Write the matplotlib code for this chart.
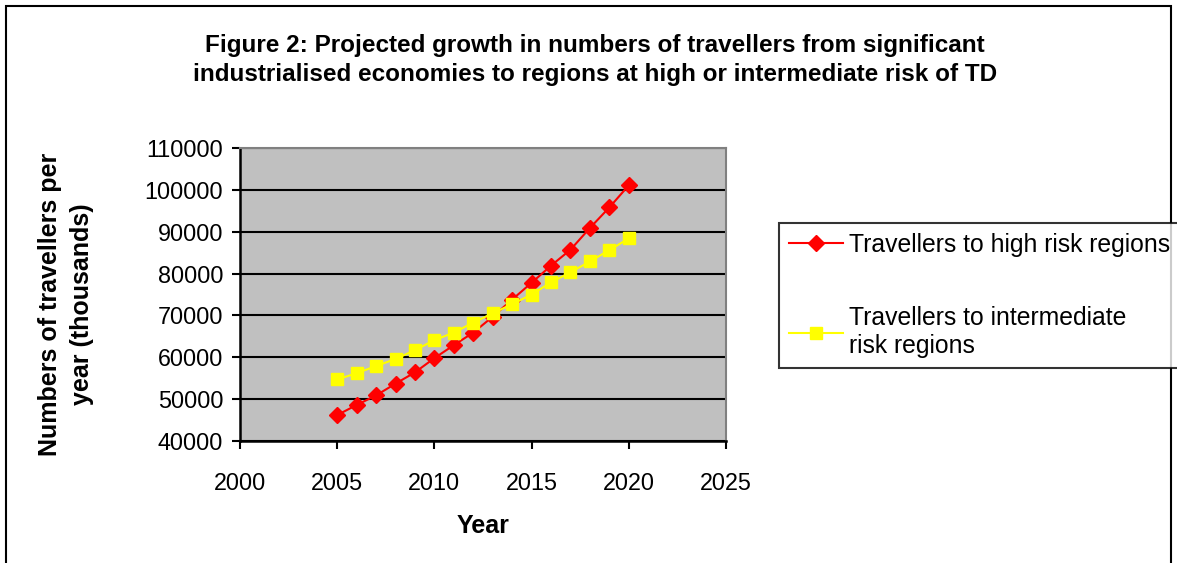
import matplotlib
matplotlib.use("Agg")
from matplotlib import pyplot as plt
from matplotlib.patches import Rectangle

years = list(range(2005, 2021))
high_risk = [46200, 48600, 50900, 53700, 56400, 59800, 62900, 65900,
             69700, 73800, 77800, 81900, 85700, 90900, 95800, 101100]
intermediate_risk = [54700, 56200, 57900, 59600, 61700, 64100, 65900, 68300,
                     70500, 72700, 75000, 77900, 80300, 82900, 85600, 88400]
x_ticks = [2000, 2005, 2010, 2015, 2020, 2025]
y_ticks = list(range(40000, 110001, 10000))

plt.rcParams['font.family'] = ['Liberation Sans', 'DejaVu Sans']

W, H = 1177, 563
fig = plt.figure(figsize=(W / 100, H / 100), dpi=100)

# outer chart border
fig.patches.append(Rectangle((6 / W, -0.05), 1165 / W, 1 - 6 / H + 0.05,
                             transform=fig.transFigure, fill=False,
                             edgecolor='black', linewidth=1.5))

ax = fig.add_axes([240 / W, 1 - 441 / H, 486 / W, 293 / H])
ax.set_facecolor('#c0c0c0')

ax.plot(years, high_risk, color='#ff0000', marker='D', markersize=8,
        linewidth=1.5, label='Travellers to high risk regions')
ax.plot(years, intermediate_risk, color='#ffff00', marker='s', markersize=9,
        linewidth=1.5, label='Travellers to intermediate\nrisk regions')

ax.set_xlim(2000, 2025)
ax.set_ylim(40000, 110000)
ax.set_xticks(x_ticks)
ax.set_yticks(y_ticks)
ax.yaxis.grid(True, color='black', linewidth=1.5)
ax.set_axisbelow(True)
ax.tick_params(direction='out', length=6, width=1.5, labelsize=16.8)
ax.tick_params(axis='y', pad=6)
ax.tick_params(axis='x', pad=16)

for side in ['left', 'bottom']:
    ax.spines[side].set_linewidth(1.8)
for side in ['top', 'right']:
    ax.spines[side].set_color('#808080')
    ax.spines[side].set_linewidth(1.5)

ax.set_xlabel('Year', fontsize=18, fontweight='bold', labelpad=14)
fig.text(66 / W, 1 - 304 / H, 'Numbers of travellers per\nyear (thousands)',
         rotation=90, ha='center', va='center', fontsize=18,
         fontweight='bold', linespacing=1.45)

fig.text(595 / W, 1 - 60 / H,
         'Figure 2: Projected growth in numbers of travellers from significant\n'
         'industrialised economies to regions at high or intermediate risk of TD',
         ha='center', va='center', fontsize=17.5, fontweight='bold',
         linespacing=1.32)

leg = fig.legend(loc='upper left', bbox_to_anchor=(779 / W, 1 - 223 / H),
                 fontsize=17.8, frameon=True, fancybox=False, edgecolor='black',
                 borderpad=0.4, labelspacing=2.0, handlelength=2.2,
                 handletextpad=0.25, borderaxespad=0)
leg.get_frame().set_linewidth(1.5)

fig.savefig('out.png', dpi=100)
